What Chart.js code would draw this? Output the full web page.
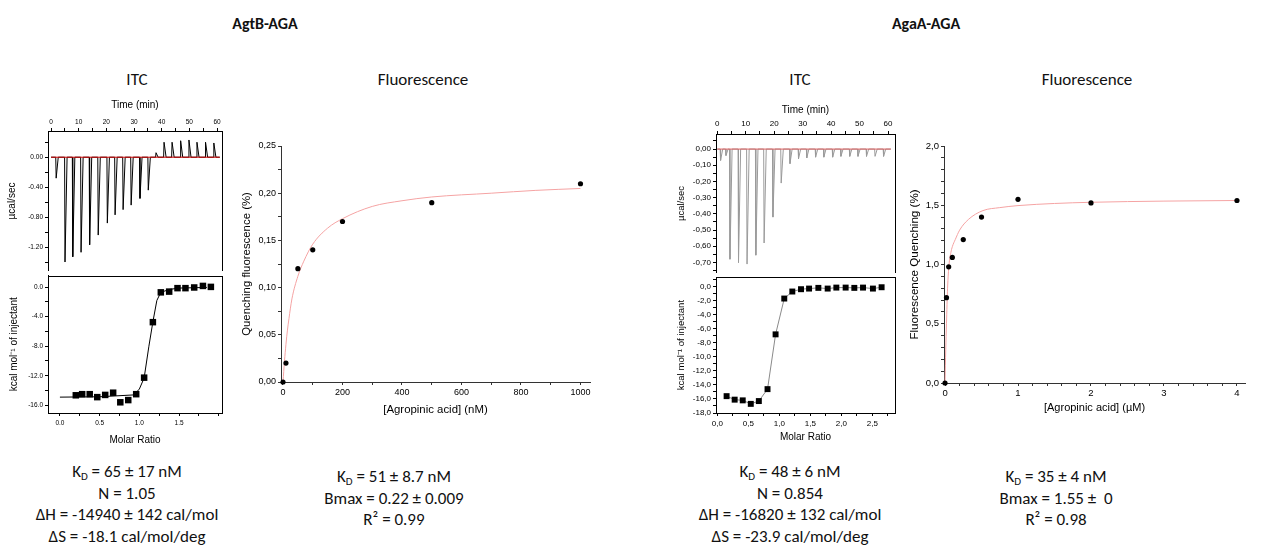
<!DOCTYPE html>
<html>
<head>
<meta charset="utf-8">
<script src="https://cdn.jsdelivr.net/npm/chart.js@4.4.1/dist/chart.umd.min.js"></script>
<style>
  body { margin: 0; background: #fff; width: 1264px; height: 549px; position: relative; overflow: hidden;
         font-family: Carlito, Lato, "Open Sans", sans-serif; color: #111; }
  canvas { position: absolute; }
  .t { position: absolute; transform: translateX(-50%); white-space: nowrap; text-align: center; }
  .h { font-weight: bold; font-size: 16px; line-height: 18px; }
  .s { font-size: 17px; line-height: 22px; }
  .b { font-size: 17px; line-height: 21.5px; }
  sub { font-size: 11px; vertical-align: -3px; line-height: 0; }
</style>
</head>
<body>
<div class="t h" style="left:265px;top:15px">AgtB-AGA</div>
<div class="t h" style="left:926px;top:15px">AgaA-AGA</div>
<div class="t s" style="left:137px;top:69px">ITC</div>
<div class="t s" style="left:423px;top:69px">Fluorescence</div>
<div class="t s" style="left:800px;top:69px">ITC</div>
<div class="t s" style="left:1087px;top:69px">Fluorescence</div>

<canvas id="agtbRaw" width="232" height="183" style="left:0;top:88px"></canvas>
<canvas id="agtbInt" width="232" height="176" style="left:0;top:271px"></canvas>
<canvas id="agtbFl" width="372" height="300" style="left:226px;top:130px"></canvas>
<canvas id="agaaRaw" width="243" height="185" style="left:662px;top:88px"></canvas>
<canvas id="agaaInt" width="243" height="174" style="left:662px;top:273px"></canvas>
<canvas id="agaaFl" width="362" height="300" style="left:893px;top:130px"></canvas>

<div class="t b" style="left:127px;top:461px">K<sub>D</sub> = 65 ± 17 nM<br>N = 1.05<br>ΔH = -14940 ± 142 cal/mol<br>ΔS = -18.1 cal/mol/deg</div>
<div class="t b" style="left:394px;top:466px">K<sub>D</sub> = 51 ± 8.7 nM<br>Bmax = 0.22 ± 0.009<br>R² = 0.99</div>
<div class="t b" style="left:790px;top:461px">K<sub>D</sub> = 48 ± 6 nM<br>N = 0.854<br>ΔH = -16820 ± 132 cal/mol<br>ΔS = -23.9 cal/mol/deg</div>
<div class="t b" style="left:1056px;top:466px">K<sub>D</sub> = 35 ± 4 nM<br>Bmax = 1.55 ±&nbsp; 0<br>R² = 0.98</div>

<script>
// ---- AgtB-AGA : ITC thermogram (injection time in min, peak in µcal/sec)
const agtbInjTime = [1.7, 4.9, 7.7, 10.7, 13.8, 16.9, 20.2, 23.0, 25.9, 28.8, 32.0, 35.0, 37.8, 40.7, 43.6, 46.7, 49.7, 52.6, 55.7, 58.7];
const agtbInjPeak = [-0.28, -1.40, -1.33, -1.27, -1.17, -1.04, -0.88, -0.77, -0.70, -0.64, -0.55, -0.44, 0.06, 0.20, 0.20, 0.22, 0.23, 0.20, 0.20, 0.19];
const agtbTimeSpan = [0, 61];
const agtbBaseline = [0, 0];

// ---- AgtB-AGA : ITC integrated heats
const agtbRatio = [0.20, 0.28, 0.375, 0.47, 0.57, 0.67, 0.76, 0.86, 0.96, 1.06, 1.17, 1.27, 1.375, 1.48, 1.58, 1.69, 1.80, 1.90];
const agtbHeat = [-14.65, -14.5, -14.5, -14.9, -14.6, -14.3, -15.6, -15.3, -14.5, -12.26, -4.74, -0.70, -0.6, -0.13, -0.13, -0.04, 0.17, 0.04];
const agtbFitRatio = [0, 0.5, 0.93, 1.0, 1.06, 1.12, 1.17, 1.22, 1.27, 1.38, 1.5, 1.85];
const agtbFitHeat = [-14.9, -14.85, -14.6, -13.8, -12.3, -8.0, -4.7, -1.8, -0.7, -0.3, -0.12, -0.03];

// ---- AgtB-AGA : fluorescence (nM)
const agtbConc = [0, 10, 50, 100, 200, 500, 1000];
const agtbQuench = [0, 0.02, 0.12, 0.14, 0.17, 0.19, 0.21];
const agtbFitConc = [0, 5, 10, 15, 20, 30, 50, 70, 100, 150, 200, 300, 400, 500, 700, 850, 1000];
const agtbFitQuench = [0, 0.022, 0.04, 0.055, 0.067, 0.088, 0.112, 0.128, 0.146, 0.163, 0.173, 0.186, 0.192, 0.196, 0.200, 0.203, 0.205];

// ---- AgaA-AGA : ITC thermogram
const agaaInjTime = [1.0, 2.9, 4.3, 7.3, 10.3, 13.4, 16.3, 19.4, 22.3, 25.4, 28.4, 31.3, 34.4, 37.3, 40.4, 43.3, 46.4, 49.3, 52.3, 55.3, 58.3];
const agaaInjPeak = [-0.07, -0.04, -0.68, -0.70, -0.71, -0.655, -0.58, -0.42, -0.21, -0.09, -0.06, -0.055, -0.05, -0.05, -0.05, -0.045, -0.045, -0.045, -0.045, -0.045, -0.045];
const agaaTimeSpan = [0, 61];
const agaaBaseline = [0, 0];

// ---- AgaA-AGA : ITC integrated heats
const agaaRatio = [0.15, 0.28, 0.41, 0.54, 0.67, 0.81, 0.94, 1.08, 1.21, 1.35, 1.48, 1.63, 1.78, 1.92, 2.07, 2.21, 2.35, 2.51, 2.65];
const agaaHeat = [-15.6, -16.1, -16.2, -16.7, -16.3, -14.6, -6.8, -1.7, -0.7, -0.37, -0.28, -0.18, -0.28, -0.14, -0.14, -0.18, -0.14, -0.28, -0.09];

// ---- AgaA-AGA : fluorescence (µM)
const agaaConc = [0, 0.02, 0.05, 0.1, 0.25, 0.5, 1, 2, 4];
const agaaQuench = [0, 0.72, 0.98, 1.06, 1.21, 1.40, 1.55, 1.52, 1.54];
const agaaFitConc = [0, 0.005, 0.01, 0.02, 0.035, 0.055, 0.08, 0.1, 0.14, 0.2, 0.32, 0.52, 0.75, 1, 1.5, 2, 3, 4];
const agaaFitQuench = [0, 0.15, 0.28, 0.5, 0.8, 1.0, 1.1, 1.15, 1.21, 1.29, 1.38, 1.455, 1.48, 1.497, 1.515, 1.525, 1.535, 1.54];

const AXIS_FONT = '"Liberation Sans", Arial, sans-serif';

// pair x / y arrays into points
const pts = (xs, ys) => xs.map((x, i) => ({ x, y: ys[i] }));

// thermogram trace: flat baseline with one sharp peak per injection
function thermogram(times, peaks, span) {
    const out = [{ x: span[0], y: 0 }];
    times.forEach((t, i) => {
        out.push({ x: t, y: 0 }, { x: t + 0.15, y: peaks[i] }, { x: t + 0.9, y: 0 });
    });
    out.push({ x: span[1], y: 0 });
    return out;
}

const isMajor = (v, major) => Math.abs(v / major - Math.round(v / major)) < 1e-6;
const fmt = (dec, comma) => v => {
    let s = (Math.round(v * 1e6) / 1e6).toFixed(dec);
    if (/^-0[.,]?0*$/.test(s)) s = s.slice(1);
    return comma ? s.replace('.', ',') : s;
};

// box round the plot area (ITC panels)
const framePlugin = {
    id: 'frame',
    afterDraw(chart, args, opts) {
        if (!opts.show) return;
        const { left, top, right, bottom } = chart.chartArea;
        const ctx = chart.ctx;
        ctx.save();
        ctx.strokeStyle = opts.color || '#000';
        ctx.lineWidth = 1;
        ctx.strokeRect(Math.round(left) + 0.5, Math.round(top) + 0.5, Math.round(right - left), Math.round(bottom - top));
        ctx.restore();
    }
};

function axis(o) {
    const vertical = o.pos === 'left' || o.pos === 'right';
    const col = o.color || '#000';
    return {
        type: 'linear',
        position: o.pos,
        min: o.min,
        max: o.max,
        border: { display: true, color: col, width: 1 },
        grid: { display: true, drawOnChartArea: false, drawTicks: true, tickLength: 3, color: col, tickColor: col },
        ticks: {
            stepSize: o.step,
            autoSkip: false,
            maxTicksLimit: 1000,
            includeBounds: false,
            maxRotation: 0,
            minRotation: 0,
            padding: o.tickPad == null ? 2 : o.tickPad,
            color: '#000',
            font: { family: AXIS_FONT, size: o.font },
            callback: v => (isMajor(v, o.major) && (o.labelMax == null || v <= o.labelMax)) ? o.format(v) : ''
        },
        title: {
            display: !!o.title,
            text: o.title,
            color: '#000',
            font: { family: AXIS_FONT, size: o.titleSize },
            padding: o.titlePad || 0
        },
        afterFit: s => {
            if (vertical) s.width = o.size; else s.height = o.size;
            s.paddingLeft = 0; s.paddingRight = 0; s.paddingTop = 0; s.paddingBottom = 0;
        }
    };
}

function makeChart(id, datasets, x, y, pad, frame) {
    return new Chart(document.getElementById(id), {
        type: 'scatter',
        data: { datasets },
        options: {
            responsive: false,
            animation: false,
            events: [],
            layout: { padding: pad },
            plugins: { legend: { display: false }, tooltip: { enabled: false }, frame: { show: frame } },
            scales: { x, y }
        },
        plugins: [framePlugin]
    });
}

// higher order = drawn further back
const lineSet = (data, color, width, order, smooth) => ({
    data, order, showLine: true, pointRadius: 0, borderColor: color, borderWidth: width, fill: false,
    cubicInterpolationMode: smooth ? 'monotone' : 'default', tension: 0
});
const dotSet = (data, style, r) => ({
    data, order: 0, showLine: false, pointStyle: style, pointRadius: r, backgroundColor: '#000', borderColor: '#000',
    borderWidth: 0, clip: false
});

// ---------- AgtB-AGA ITC raw ----------
makeChart('agtbRaw', [
    lineSet(pts(agtbTimeSpan, agtbBaseline), '#d00000', 1, 0),
    lineSet(thermogram(agtbInjTime, agtbInjPeak, agtbTimeSpan), '#000', 1, 1)
], axis({ pos: 'top', min: -1.1, max: 61.8, step: 5, major: 10, format: fmt(0), font: 6.5, size: 43,
          title: 'Time (min)', titleSize: 10, titlePad: { top: 11, bottom: 0 } }),
   axis({ pos: 'left', min: -1.52, max: 0.35, step: 0.2, major: 0.4, format: fmt(2), font: 6.5, size: 48,
          title: 'µcal/sec', titleSize: 10, titlePad: { top: 6, bottom: 0 } }),
   { left: 0, right: 10, top: 0, bottom: 0 }, true);

// ---------- AgtB-AGA ITC integrated ----------
makeChart('agtbInt', [
    lineSet(pts(agtbFitRatio, agtbFitHeat), '#000', 1, 1),
    dotSet(pts(agtbRatio, agtbHeat), 'rect', 4.6)
], axis({ pos: 'bottom', min: -0.15, max: 2.04, step: 0.25, major: 0.5, labelMax: 1.5, format: fmt(1), font: 6.5, size: 34,
          tickPad: 3, title: 'Molar Ratio', titleSize: 10, titlePad: { top: 0, bottom: 1 } }),
   axis({ pos: 'left', min: -17.05, max: 1.57, step: 2, major: 4, format: fmt(1), font: 6.5, size: 48,
          title: 'kcal mol⁻¹ of injectant', titleSize: 10, titlePad: { top: 8, bottom: 0 } }),
   { left: 0, right: 10, top: 0, bottom: 0 }, true);

// ---------- AgtB-AGA fluorescence ----------
makeChart('agtbFl', [
    lineSet(pts(agtbFitConc, agtbFitQuench), '#f5a3a3', 1, 1, true),
    dotSet(pts(agtbConc, agtbQuench), 'circle', 2.6)
], axis({ pos: 'bottom', min: -6.7, max: 1032, step: 100, major: 200, format: fmt(0), font: 9, size: 48, color: '#333',
          title: '[Agropinic acid] (nM)', titleSize: 11.4, titlePad: { top: 0, bottom: 13 } }),
   axis({ pos: 'left', min: 0, max: 0.25, step: 0.025, major: 0.05, format: fmt(2, true), font: 9, size: 55, color: '#333',
          title: 'Quenching fluorescence (%)', titleSize: 11.4, titlePad: { top: 14, bottom: 0 } }),
   { left: 0, right: 8, top: 16, bottom: 0 }, false);

// ---------- AgaA-AGA ITC raw ----------
makeChart('agaaRaw', [
    lineSet(pts(agaaTimeSpan, agaaBaseline), '#e06060', 1, 0),
    lineSet(thermogram(agaaInjTime, agaaInjPeak, agaaTimeSpan), '#9a9a9a', 1, 1)
], axis({ pos: 'top', min: -0.46, max: 62.46, step: 5, major: 10, format: fmt(0), font: 8, size: 46,
          title: 'Time (min)', titleSize: 10, titlePad: { top: 16, bottom: 0 } }),
   axis({ pos: 'left', min: -0.765, max: 0.093, step: 0.05, major: 0.1, format: fmt(2, true), font: 8, size: 54,
          title: 'µcal/sec', titleSize: 9.5, titlePad: { top: 14, bottom: 0 } }),
   { left: 0, right: 10, top: 0, bottom: 0 }, true);

// ---------- AgaA-AGA ITC integrated ----------
makeChart('agaaInt', [
    lineSet(pts(agaaRatio, agaaHeat), '#8a8a8a', 1, 1),
    dotSet(pts(agaaRatio, agaaHeat), 'rect', 4.2)
], axis({ pos: 'bottom', min: -0.021, max: 2.866, step: 0.25, major: 0.5, format: fmt(1, true), font: 8, size: 34,
          tickPad: 3, title: 'Molar Ratio', titleSize: 10, titlePad: { top: 0, bottom: 4 } }),
   axis({ pos: 'left', min: -18, max: 1.34, step: 1, major: 2, format: fmt(1, true), font: 8, size: 54,
          title: 'kcal mol⁻¹ of injectant', titleSize: 9.6, titlePad: { top: 14, bottom: 0 } }),
   { left: 0, right: 10, top: 0, bottom: 0 }, true);

// ---------- AgaA-AGA fluorescence ----------
makeChart('agaaFl', [
    lineSet(pts(agaaFitConc, agaaFitQuench), '#f5a3a3', 1, 1, true),
    dotSet(pts(agaaConc, agaaQuench), 'circle', 2.6)
], axis({ pos: 'bottom', min: -0.014, max: 4.11, step: 0.2, major: 1, format: fmt(0), font: 9.5, size: 47, color: '#333',
          title: '[Agropinic acid] (µM)', titleSize: 11, titlePad: { top: 0, bottom: 15 } }),
   axis({ pos: 'left', min: 0, max: 2.0, step: 0.1, major: 0.5, format: fmt(1, true), font: 9.5, size: 51, color: '#333',
          title: 'Fluorescence Quenching (%)', titleSize: 11.6, titlePad: { top: 15, bottom: 0 } }),
   { left: 0, right: 10, top: 16, bottom: 0 }, false);
</script>
</body>
</html>
